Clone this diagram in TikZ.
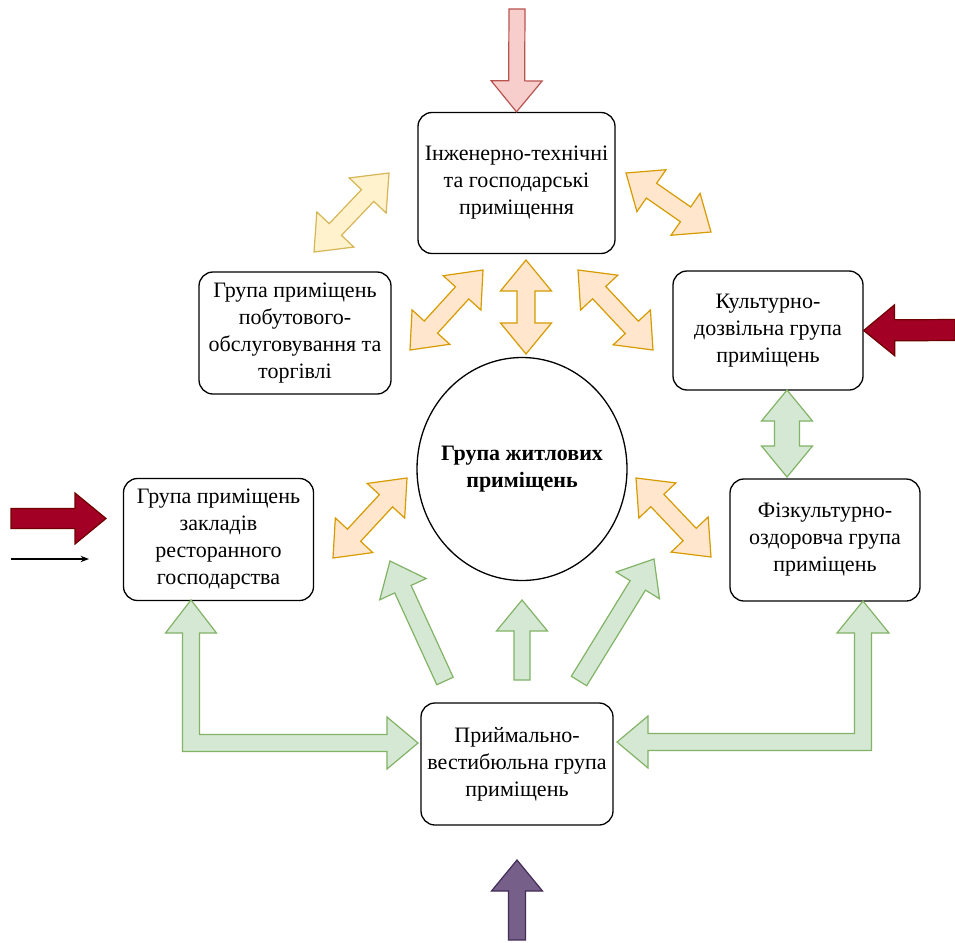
\documentclass[tikz,border=0pt]{standalone}
\usepackage{fontspec}
\setmainfont{Liberation Serif}
\usepackage{tikz}
\usepackage{xcolor}
\usetikzlibrary{shapes.geometric, arrows.meta, calc}
\definecolor{yellowfill}{HTML}{FFF2CC}
\definecolor{yellowline}{HTML}{D6B656}
\definecolor{orangefill}{HTML}{FFE6CC}
\definecolor{orangeline}{HTML}{D79B00}
\definecolor{greenfill}{HTML}{D5E8D4}
\definecolor{greenline}{HTML}{82B366}
\definecolor{pinkfill}{HTML}{F8CECC}
\definecolor{pinkline}{HTML}{B85450}
\definecolor{winefill}{HTML}{A20025}
\definecolor{wineline}{HTML}{6F0000}
\definecolor{purplefill}{HTML}{76608A}
\definecolor{purpleline}{HTML}{432D57}
\tikzstyle{room} = [rectangle, draw, line width=1.3pt, rounded corners=14pt, align=center, minimum width=190pt, minimum height=122pt, inner sep=0pt, font=\fontsize{22}{27}\selectfont]
\tikzstyle{hub} = [ellipse, draw, line width=1.3pt, align=center, minimum width=210pt, minimum height=223pt, inner xsep=-10pt, inner ysep=0pt, font=\fontsize{22}{27}\selectfont\bfseries]
\tikzstyle{yellowarrow} = [draw=yellowline, fill=yellowfill, line width=1.2pt]
\tikzstyle{orangearrow} = [draw=orangeline, fill=orangefill, line width=1.2pt]
\tikzstyle{greenarrow} = [draw=greenline, fill=greenfill, line width=1.2pt]
\tikzstyle{pinkarrow} = [draw=pinkline, fill=pinkfill, line width=1.2pt]
\tikzstyle{winearrow} = [draw=wineline, fill=winefill, line width=1.2pt]
\tikzstyle{purplearrow} = [draw=purpleline, fill=purplefill, line width=1.2pt]
\tikzstyle{arrow} = [-Stealth, line width=1.2pt]
% block arrow: style, from, to, half shaft width
\newcommand{\blockarrow}[4]{%
  \coordinate (hb) at ($(#3)!31pt!(#2)$);
  \draw[#1] ($(#2)!#4!90:(#3)$) -- ($(hb)!#4!90:(#3)$) -- ($(hb)!25.5pt!90:(#3)$) -- (#3)
    -- ($(hb)!25.5pt!-90:(#3)$) -- ($(hb)!#4!-90:(#3)$) -- ($(#2)!#4!-90:(#3)$) -- cycle;
}
\newcommand{\dblockarrow}[4]{%
  \coordinate (ha) at ($(#2)!31pt!(#3)$);
  \coordinate (hb) at ($(#3)!31pt!(#2)$);
  \draw[#1] (#2) -- ($(ha)!25.5pt!90:(#3)$) -- ($(ha)!#4!90:(#3)$) -- ($(hb)!#4!90:(#3)$)
    -- ($(hb)!25.5pt!90:(#3)$) -- (#3) -- ($(hb)!25.5pt!-90:(#3)$) -- ($(hb)!#4!-90:(#3)$)
    -- ($(ha)!#4!-90:(#3)$) -- ($(ha)!25.5pt!-90:(#3)$) -- cycle;
}

\begin{document}
\begin{tikzpicture}[x=1pt, y=-1pt]
    \path[use as bounding box, fill=white] (0,0) rectangle (955,942);

    % Groups of rooms
    \node[room, minimum width=197pt, minimum height=141pt] (tech) at (516.5,183) {Інженерно-технічні\\та господарські\\приміщення};
    \node[room, minimum width=192pt] (household) at (295,333) {Група приміщень\\побутового-\\обслуговування та\\торгівлі};
    \node[room, minimum height=119pt] (culture) at (768,330.5) {Культурно-\\дозвільна група\\приміщень};
    \node[room] (restaurant) at (218.5,539.5) {Група приміщень\\закладів\\ресторанного\\господарства};
    \node[room] (sport) at (825,540) {Фізкультурно-\\оздоровча група\\приміщень};
    \node[room, minimum width=192pt] (lobby) at (517,764) {Приймально-\\вестибюльна група\\приміщень};
    \node[hub] (living) at (522,469) {Група житлових\\приміщень};

    % Ends of the block arrows
    \coordinate (in_tech) at (517,9);
    \coordinate (in_culture) at (955,330);
    \coordinate (in_rest) at (11,518.5);
    \coordinate (in_rest_tip) at (106,518.5);
    \coordinate (in_thin) at (11,559);
    \coordinate (in_thin_tip) at (89,559);
    \coordinate (in_lobby) at (517,940);
    \coordinate (in_lobby_tip) at (517,860);

    \coordinate (yel_a) at (314,252);
    \coordinate (yel_b) at (389,173);
    \coordinate (tr_a) at (626,173);
    \coordinate (tr_b) at (711,232);
    \coordinate (ul_a) at (410,350);
    \coordinate (ul_b) at (483,270);
    \coordinate (up_a) at (526,354);
    \coordinate (up_b) at (526,260);
    \coordinate (ur_a) at (578,270);
    \coordinate (ur_b) at (653,350);
    \coordinate (ll_a) at (333,558);
    \coordinate (ll_b) at (407,478);
    \coordinate (lr_a) at (636,478);
    \coordinate (lr_b) at (711,557);
    \coordinate (cs_a) at (787,390);
    \coordinate (cs_b) at (787,477);

    \coordinate (gl_a) at (445,681);
    \coordinate (gl_b) at (390,561);
    \coordinate (gm_a) at (522,680);
    \coordinate (gm_b) at (522,600);
    \coordinate (gr_a) at (579,681);
    \coordinate (gr_b) at (654,559);

    % Incoming flows
    \blockarrow{pinkarrow}{in_tech}{tech.north}{8pt}
    \blockarrow{winearrow}{in_culture}{culture.east}{10.5pt}
    \blockarrow{winearrow}{in_rest}{in_rest_tip}{10pt}
    \blockarrow{purplearrow}{in_lobby}{in_lobby_tip}{8.5pt}
    \draw[arrow] (in_thin) -- (in_thin_tip);

    % Links between groups
    \dblockarrow{yellowarrow}{yel_a}{yel_b}{8.5pt}
    \dblockarrow{orangearrow}{tr_a}{tr_b}{9pt}
    \dblockarrow{orangearrow}{ul_a}{ul_b}{9pt}
    \dblockarrow{orangearrow}{up_a}{up_b}{9pt}
    \dblockarrow{orangearrow}{ur_a}{ur_b}{9pt}
    \dblockarrow{orangearrow}{ll_a}{ll_b}{9pt}
    \dblockarrow{orangearrow}{lr_a}{lr_b}{9pt}
    \dblockarrow{greenarrow}{cs_a}{cs_b}{12.5pt}

    \blockarrow{greenarrow}{gl_a}{gl_b}{9pt}
    \blockarrow{greenarrow}{gm_a}{gm_b}{8pt}
    \blockarrow{greenarrow}{gr_a}{gr_b}{9pt}

    % Bent links from the lobby
    \draw[greenarrow] (191,600) -- (216.5,633) -- (199.5,633) -- (199.5,734.5) -- (387,734.5) -- (387,717) -- (418,743)
        -- (387,769) -- (387,751.5) -- (182.5,751.5) -- (182.5,633) -- (165.5,633) -- cycle;
    \draw[greenarrow] (617,742) -- (648,716) -- (648,733.5) -- (854.5,733.5) -- (854.5,633) -- (837,633) -- (863,601)
        -- (889,633) -- (871.5,633) -- (871.5,750.5) -- (648,750.5) -- (648,768) -- cycle;

\end{tikzpicture}
\end{document}
